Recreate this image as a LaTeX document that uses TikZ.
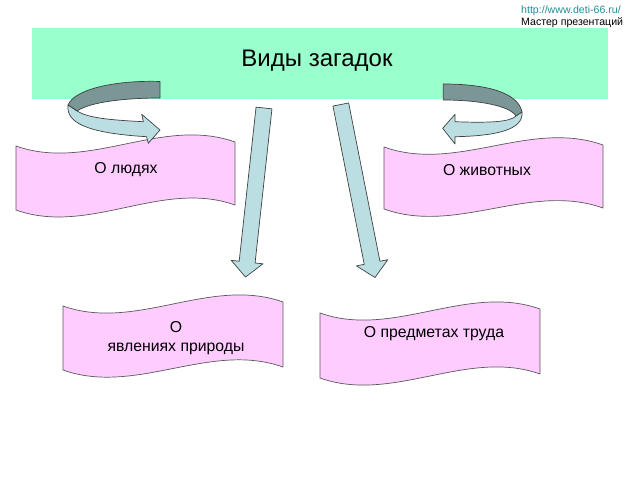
\documentclass[tikz,border=0pt]{standalone}
\usepackage{fontspec}
\setmainfont{Liberation Sans}
\usepackage{tikz}

\definecolor{mint}{RGB}{153,255,204}
\definecolor{ribbon}{RGB}{255,204,255}
\definecolor{arrowlight}{RGB}{186,222,226}
\definecolor{arrowdark}{RGB}{122,150,150}
\definecolor{urlteal}{RGB}{38,140,150}

\begin{document}
\begin{tikzpicture}[x=1pt,y=-1pt,
  wavebox/.style={draw=black!65, fill=ribbon, line width=0.7pt},
  arrowfront/.style={draw=black!75, fill=arrowlight, line width=0.7pt, line join=round},
  arrowback/.style={draw=black!75, fill=arrowdark, line width=0.7pt, line join=round},
  wavetext/.style={font=\fontsize{15.8}{19.5}\selectfont, align=center}]

\useasboundingbox (0,0) rectangle (640,480);

%% title block
\fill[mint] (32,28) rectangle (608,99);
\node (title) at (317,61) {\fontsize{24}{28}\selectfont Виды загадок};

%% site label
\node[anchor=west, inner sep=0pt, text=urlteal] (url) at (521,11) {\fontsize{10.6}{12}\selectfont http://www.deti-66.ru/};
\node[anchor=west, inner sep=0pt] (master) at (521,22.5) {\fontsize{10.6}{12}\selectfont Мастер презентаций};

%% waves
\draw[wavebox] (16,146) .. controls (89,172) and (162,116) .. (235,142)
  -- (235,205) .. controls (162,179) and (89,236) .. (16,210) -- cycle;          %% people
\draw[wavebox] (384,147) .. controls (457,173) and (530,119) .. (603,145)
  -- (603,208) .. controls (530,182) and (457,235) .. (384,209) -- cycle;        %% animals
\draw[wavebox] (63,306) .. controls (136,332) and (210,276) .. (283,302)
  -- (283,367) .. controls (210,341) and (136,396) .. (63,370) -- cycle;         %% nature
\draw[wavebox] (320,313) .. controls (393,339) and (467,283) .. (540,309)
  -- (540,374) .. controls (467,348) and (393,404) .. (320,378) -- cycle;        %% labour

%% wave labels
\node[wavetext] (people) at (126,170) {О людях};
\node[wavetext] (animals) at (487,170) {О животных};
\node[wavetext] (nature) at (176,338) {О\\явлениях природы};
\node[wavetext] (labour) at (434,334) {О предметах труда};

%% curved arrow, left
\draw[arrowback] (160,81.5) .. controls (120,80) and (75,88) .. (68,105)
  -- (77,111) .. controls (90,102) and (125,98) .. (160,98) -- cycle;
\draw[arrowfront] (68,105) .. controls (66,122) and (85,133) .. (146.6,136.7)
  -- (148.3,143.3) -- (160,130) -- (141.7,114.3) -- (143.4,121.7)
  .. controls (110,120) and (88,118) .. (77,111) -- cycle;

%% curved arrow, right
\draw[arrowback] (443.3,84) .. controls (485,84) and (518,92) .. (522,112)
  -- (516,116) .. controls (510,106) and (480,100) .. (443.3,100) -- cycle;
\draw[arrowfront] (522,112) .. controls (524,130) and (495,136) .. (455,136.7)
  -- (455,144) -- (442.7,128.3) -- (455,114.3) -- (455,121.7)
  .. controls (490,123) and (510,122) .. (516,116) -- cycle;

%% straight arrows
\draw[arrowfront] (256.05,107.13) -- (239.18,261.22) -- (231.22,260.35) -- (245.5,277)
  -- (263.04,263.83) -- (255.08,262.96) -- (271.95,108.87) -- cycle;      %% to nature
\draw[arrowfront] (332.95,106.05) -- (364.24,264.34) -- (356.39,265.89) -- (375,277.5)
  -- (387.79,259.69) -- (379.94,261.24) -- (348.65,102.95) -- cycle;      %% to labour

\end{tikzpicture}
\end{document}
